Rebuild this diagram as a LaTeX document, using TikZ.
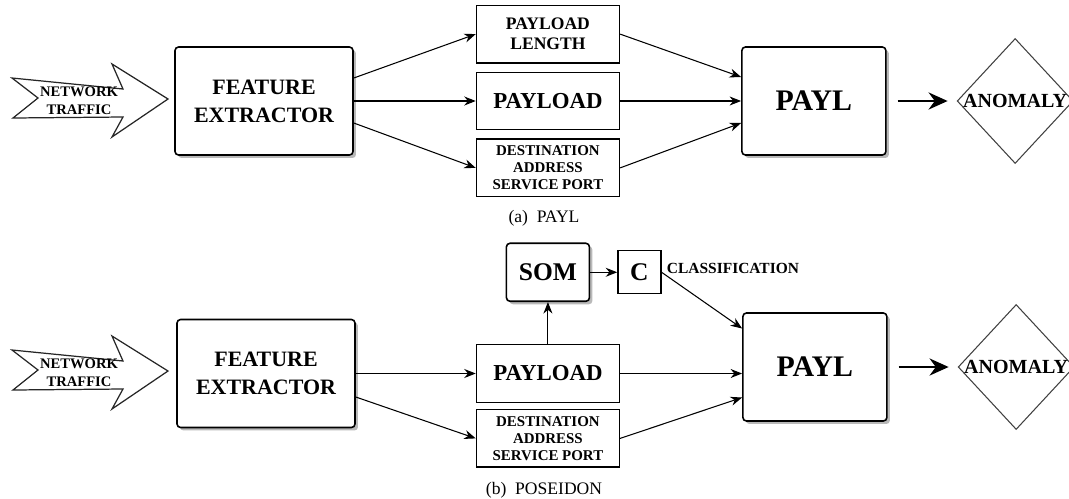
\documentclass[tikz,border=0pt]{standalone}
\usepackage{fontspec}
\setmainfont{Liberation Serif}
\usepackage{tikz}
\usetikzlibrary{arrows.meta, positioning, shapes.geometric, shadows}

\begin{document}
\begin{tikzpicture}[
		x=0.02cm, y=-0.02cm,
		block/.style={
			rectangle,
			rounded corners=2pt,
			draw=black,
			line width=0.9pt,
			fill=white,
			drop shadow={shadow xshift=0.06cm, shadow yshift=-0.06cm, fill=black!55},
			inner sep=0pt,
			align=center
		},
		field/.style={
			rectangle,
			draw=black,
			line width=0.8pt,
			fill=white,
			minimum width=2.86cm,
			minimum height=1.15cm,
			inner sep=0pt,
			align=center
		},
		decision/.style={
			diamond,
			draw=black!75,
			line width=0.6pt,
			minimum width=2.32cm,
			minimum height=2.5cm,
			inner sep=0pt
		},
		traffic/.style={
			draw=black!85,
			line width=0.7pt,
			fill=white
		},
		arrow/.style={
			line width=0.6pt,
			-{Stealth[length=2.3mm, width=1.8mm]}
		},
		bigarrow/.style={
			line width=1.6pt,
			-{Stealth[length=3.8mm, width=3.4mm]},
			shorten <=0.22cm,
			shorten >=0.18cm
		}
	]
	\useasboundingbox (0,0) rectangle (1069,498);
	
	% (a) PAYL
	\draw[traffic] (12,78) -- (123,89) -- (112,64) -- (168,99) -- (112,137) -- (123,117) -- (13,118) -- (38,98) -- cycle;
	\node[inner sep=0pt, align=center, font={\fontsize{8.3}{10.5}\selectfont\bfseries}] (net) at (79,101) {NETWORK\\TRAFFIC};
	
	\node[block, minimum width=3.56cm, minimum height=2.16cm, font={\fontsize{12.5}{16}\selectfont\bfseries}] (fe) at (264,101) {FEATURE\\EXTRACTOR};
	\node[field, right=2.44cm of fe, font={\fontsize{13}{15}\selectfont\bfseries}] (pay) {PAYLOAD};
	\node[field, above=0.16cm of pay, font={\fontsize{10}{11.4}\selectfont\bfseries}] (plen) {PAYLOAD\\LENGTH};
	\node[field, below=0.16cm of pay, font={\fontsize{8.5}{9.8}\selectfont\bfseries}] (dst) {DESTINATION\\ADDRESS\\SERVICE PORT};
	\node[block, right=2.42cm of pay, minimum width=2.88cm, minimum height=2.16cm, font={\fontsize{17}{20}\selectfont\bfseries}] (payl) {PAYL};
	\node[decision, right=1.4cm of payl, label={[font={\fontsize{11.4}{13}\selectfont\bfseries}]center:ANOMALY}] (anom) {};
	
	\draw[arrow] ([yshift=0.46cm]fe.east) -- (plen.west);
	\draw[arrow] (fe.east |- pay) -- (pay.west);
	\draw[arrow] ([yshift=-0.44cm]fe.east) -- (dst.west);
	\draw[arrow] (plen.east) -- ([yshift=0.48cm]payl.west);
	\draw[arrow] (pay.east) -- (pay -| payl.west);
	\draw[arrow] (dst.east) -- ([yshift=-0.44cm]payl.west);
	\draw[bigarrow] (payl) -- (anom);
	
	\node[font={\fontsize{10}{12}\selectfont}] (capa) at (544,218) {(a)\enspace PAYL};
	
	% (b) POSEIDON
	\draw[traffic, shift={(0,272)}] (12,78) -- (123,89) -- (112,64) -- (168,99) -- (112,137) -- (123,117) -- (13,118) -- (38,98) -- cycle;
	\node[inner sep=0pt, align=center, font={\fontsize{8.3}{10.5}\selectfont\bfseries}] (net2) at (79,373) {NETWORK\\TRAFFIC};
	
	\node[block, minimum width=3.56cm, minimum height=2.16cm, font={\fontsize{12.5}{16}\selectfont\bfseries}] (fe2) at (266,373.5) {FEATURE\\EXTRACTOR};
	\node[field, right=2.4cm of fe2, font={\fontsize{13}{15}\selectfont\bfseries}] (pay2) {PAYLOAD};
	\node[field, below=0.12cm of pay2, font={\fontsize{8.5}{9.8}\selectfont\bfseries}] (dst2) {DESTINATION\\ADDRESS\\SERVICE PORT};
	\node[block, above=0.84cm of pay2, minimum width=1.66cm, minimum height=1.16cm, font={\fontsize{14.5}{16}\selectfont\bfseries}] (som) {SOM};
	\node[field, right=0.54cm of som, minimum width=0.86cm, minimum height=0.86cm, font={\fontsize{14.5}{16}\selectfont\bfseries}] (c) {C};
	\node[right=0.1cm of c, yshift=0.07cm, inner sep=0pt, font={\fontsize{8.8}{10}\selectfont\bfseries}] (cls) {CLASSIFICATION};
	\node[block, right=2.44cm of pay2, yshift=0.13cm, minimum width=2.88cm, minimum height=2.16cm, font={\fontsize{17}{20}\selectfont\bfseries}] (payl2) {PAYL};
	\node[decision, right=1.4cm of payl2, label={[font={\fontsize{11.4}{13}\selectfont\bfseries}]center:ANOMALY}] (anom2) {};
	
	\draw[arrow] (fe2.east |- pay2) -- (pay2.west);
	\draw[arrow] ([yshift=-0.47cm]fe2.east) -- (dst2.west);
	\draw[arrow] (pay2.north) -- (som.south);
	\draw[arrow] (som.east) -- (c.west);
	\draw[arrow] (c.east) -- ([yshift=0.77cm]payl2.west);
	\draw[arrow] (pay2.east) -- (pay2 -| payl2.west);
	\draw[arrow] (dst2.east) -- ([yshift=-0.61cm]payl2.west);
	\draw[bigarrow] (payl2) -- (anom2);
	
	\node[font={\fontsize{10}{12}\selectfont}] (capb) at (544,490) {(b)\enspace POSEIDON};
	
\end{tikzpicture}
\end{document}
